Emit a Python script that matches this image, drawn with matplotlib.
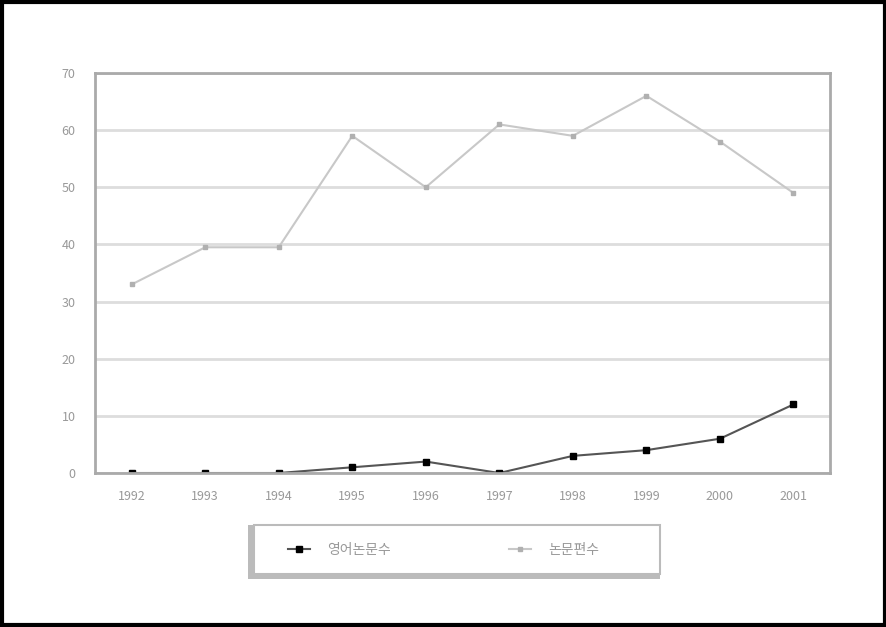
import matplotlib
matplotlib.use("Agg")
import matplotlib.pyplot as plt
from matplotlib.patches import Rectangle

plt.rcParams['font.family'] = ['Noto Sans CJK KR', 'DejaVu Sans']

years = ['1992', '1993', '1994', '1995', '1996', '1997', '1998', '1999', '2000', '2001']
english_papers = [0, 0, 0, 1, 2, 0, 3, 4, 6, 12]
total_papers = [33, 39.5, 39.5, 59, 50, 61, 59, 66, 58, 49]
labels = ['영어논문수', '논문편수']

fig = plt.figure(figsize=(8.87, 6.27), dpi=100)
ax = fig.add_axes([0.107, 0.2456, 0.829, 0.638])

x = range(len(years))
ax.plot(x, english_papers, color='#555555', lw=1.5, marker='s', ms=4,
        mfc='black', mec='black', label=labels[0])
ax.plot(x, total_papers, color='#c8c8c8', lw=1.5, marker='s', ms=3,
        mfc='#b0b0b0', mec='#b0b0b0', label=labels[1])

ax.set_xlim(-0.5, len(years) - 0.5)
ax.set_ylim(0, 70)
ax.set_yticks(range(0, 71, 10))
ax.set_xticks(list(x))
ax.set_xticklabels(years)
ax.tick_params(axis='both', labelsize=9, colors='#999999', length=0, pad=12)
ax.tick_params(axis='y', pad=14)
ax.yaxis.grid(True, color='#dddddd', lw=2)
ax.set_axisbelow(True)
for s in ax.spines.values():
    s.set_color('#aaaaaa')
    s.set_linewidth(2)

# legend box with a grey shadow
fig.patches.append(Rectangle((0.280, 0.077), 0.464, 0.086, transform=fig.transFigure,
                             facecolor='#bbbbbb', edgecolor='none'))
fig.patches.append(Rectangle((0.286, 0.085), 0.458, 0.078, transform=fig.transFigure,
                             facecolor='white', edgecolor='#bbbbbb', lw=1.5))
leg = fig.legend(loc='center', bbox_to_anchor=(0.50, 0.123), ncol=2, frameon=False,
                 fontsize=10, handlelength=1.6, handletextpad=1.2, columnspacing=8.5)
for t in leg.get_texts():
    t.set_color('#999999')

fig.patches.append(Rectangle((0.002, 0.003), 0.996, 0.994, transform=fig.transFigure,
                             fill=False, edgecolor='black', lw=3))

fig.savefig('out.png', dpi=100)
